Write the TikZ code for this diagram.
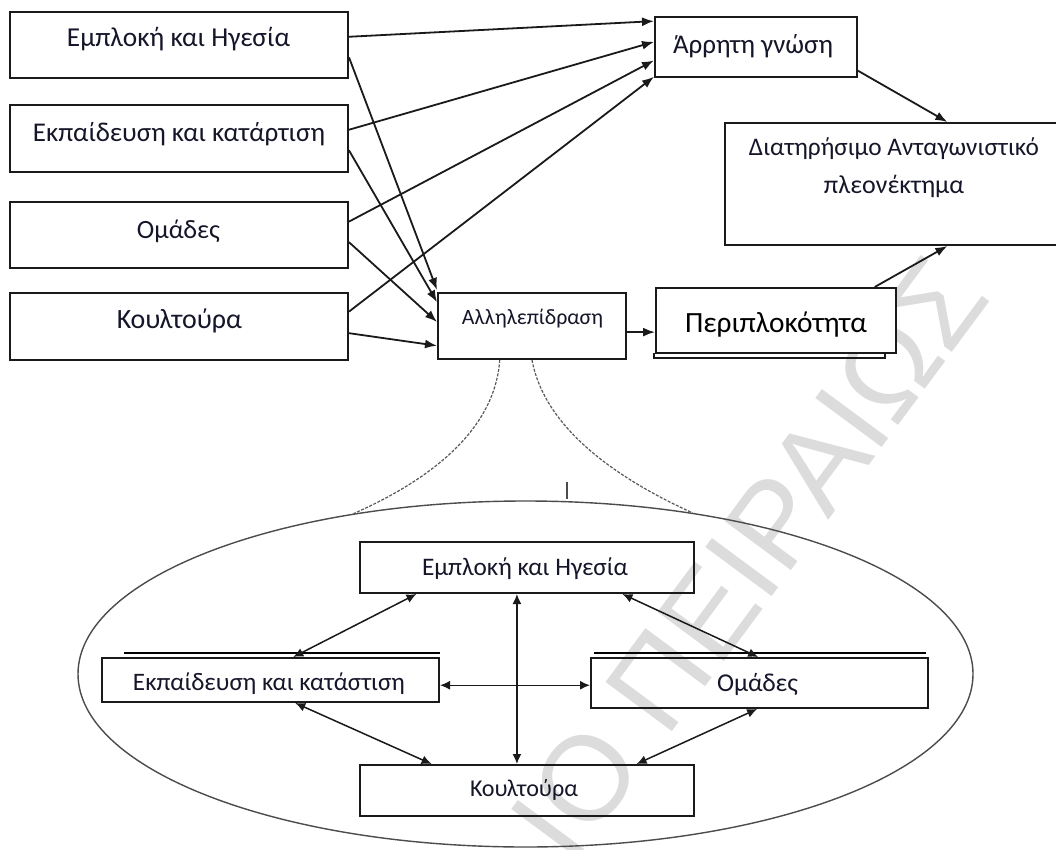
\documentclass[tikz,border=0pt]{standalone}
\usepackage{fontspec}
\setmainfont{Carlito}
\newfontfamily\wmfont{Liberation Sans}
\usetikzlibrary{arrows.meta,shapes.geometric,calc}
\definecolor{ink}{HTML}{16162A}
\definecolor{edge}{HTML}{1A1A1A}
\definecolor{wm}{HTML}{DCDCDC}
\definecolor{shade}{HTML}{8A8A8A}
\newcommand{\fitw}[2]{\resizebox{#1}{!}{#2}}
\begin{document}
\begin{tikzpicture}[x=1pt,y=-1pt,
  box/.style={draw=edge,line width=2pt,rectangle,inner sep=0pt},
  lbl/.style={inner sep=0pt,text=ink,anchor=base},
  arr/.style={draw=edge,line width=1.8pt,-{Latex[length=12pt,width=9pt]}},
  darr/.style={draw=edge,line width=1.5pt,{Latex[length=10pt,width=9pt]}-{Latex[length=10pt,width=9pt]}},
  zoomline/.style={draw=black!65,line width=1.2pt,dash pattern=on 3pt off 1.5pt},
  wmk/.style={inner sep=0pt,text=wm,anchor=base east,rotate=53.5,
    font=\wmfont\fontsize{120}{120}\selectfont}]
\useasboundingbox (0,0) rectangle (1056,850);
\fill[white] (0,0) rectangle (1056,850);

% watermark
\node[wmk] (wmark) at (993,298) {ΙΟ ΠΕΙΡΑΙΩΣ};

% ---------- upper model ----------
\node[box,minimum width=338pt,minimum height=66pt] (L1) at (179,45) {};
\node[box,minimum width=338pt,minimum height=67pt] (L2) at (179,138.5) {};
\node[box,minimum width=338pt,minimum height=66pt] (L3) at (179,235) {};
\node[box,minimum width=338pt,minimum height=67pt] (L4) at (179,326.5) {};
\node[lbl] (L1t) at (178.5,47) {\fitw{223pt}{Εμπλοκή και Ηγεσία}};
\node[lbl] (L2t) at (179,141.7) {\fitw{292pt}{Εκπαίδευση και κατάρτιση}};
\node[lbl] (L3t) at (178.5,238) {\fitw{83pt}{Ομάδες}};
\node[lbl] (L4t) at (179.5,328) {\fitw{125pt}{Κουλτούρα}};

\node[box,minimum width=202pt,minimum height=60pt] (AR) at (756,47) {};
\node[lbl] (ARt) at (753,53.3) {\fitw{160pt}{Άρρητη γνώση}};

\node[box,minimum width=338pt,minimum height=122pt] (DT) at (894,184) {};
\node[lbl] (DT1) at (894,155.5) {\fitw{290pt}{Διατηρήσιμο Ανταγωνιστικό}};
\node[lbl] (DT2) at (894,194) {\fitw{140pt}{πλεονέκτημα}};

\node[box,minimum width=188pt,minimum height=66pt] (AL) at (532,326) {};
\node[lbl] (ALt) at (532.5,324) {\fitw{141pt}{Αλληλεπίδραση}};

% stacked frame behind the complexity box
\draw[edge,line width=1.6pt] (654,353) -- (654,358) -- (885,358) -- (885,353);
\node[box,fill=white,minimum width=240pt,minimum height=65pt] (PR) at (776,320.5) {};
\node[lbl,text=black] (PRt) at (776,332) {\fitw{182pt}{Περιπλοκότητα}};

% inputs to tacit knowledge
\draw[arr] ($(L1.north east)!0.379!(L1.south east)$) -- ($(AR.north west)!0.083!(AR.south west)$);
\draw[arr] ($(L2.north east)!0.373!(L2.south east)$) -- ($(AR.north west)!0.417!(AR.south west)$);
\draw[arr] ($(L3.north east)!0.303!(L3.south east)$) -- ($(AR.north west)!0.717!(AR.south west)$);
\draw[arr] ($(L4.north east)!0.284!(L4.south east)$) -- ($(AR.north west)!0.98!(AR.south west)$);
% inputs to interaction
\draw[arr] ($(L1.north east)!0.682!(L1.south east)$) -- ($(AL.north west)!-0.03!(AL.south west)$);
\draw[arr] ($(L2.north east)!0.672!(L2.south east)$) -- ($(AL.north west)!0.15!(AL.south west)$);
\draw[arr] ($(L3.north east)!0.606!(L3.south east)$) -- ($(AL.north west)!0.44!(AL.south west)$);
\draw[arr] ($(L4.north east)!0.597!(L4.south east)$) -- ($(AL.north west)!0.79!(AL.south west)$);
% outcome chain
\coordinate (ALo) at ($(AL.north east)!0.59!(AL.south east)$);
\draw[arr] (ALo) -- (ALo -| PR.west);
\draw[arr] ($(AR.north east)!0.883!(AR.south east)$) -- ($(DT.north west)!0.657!(DT.north east)$);
\draw[arr] ($(PR.north west)!0.908!(PR.north east)$) -- ($(DT.south west)!0.657!(DT.south east)$);

% ---------- magnified interaction ----------
\node[draw=black!70,line width=1.4pt,ellipse,inner sep=0pt,
  minimum width=895pt,minimum height=346pt] (E) at (525.5,674) {};
\coordinate (tick) at (567,482);
\draw[black!70,line width=1.1pt] (tick) -- ++(0,17);
\draw[zoomline] ($(AL.south west)!0.33!(AL.south east)$)
  .. controls (495,430) and (430,480) .. (E.137.8);
\draw[zoomline] ($(AL.south west)!0.5!(AL.south east)$)
  .. controls (545,430) and (620,480) .. (E.44.4);

\node[box,minimum width=334pt,minimum height=51pt] (B1) at (527,567.5) {};
\node[box,minimum width=337pt,minimum height=44pt] (B2) at (270.5,680) {};
\node[box,minimum width=337pt,minimum height=50pt] (B3) at (759.5,683) {};
\node[box,minimum width=334pt,minimum height=51pt] (B4) at (527,790.5) {};
% grey double edge on the middle pair
\draw[shade,line width=1.8pt] ($(B2.north west)+(23,-4)$) -- ($(B2.north east)+(0,-4)$);
\draw[shade,line width=1.8pt] ($(B3.north west)+(4,-4)$) -- ($(B3.north east)+(-3,-4)$);

\node[lbl] (B1t) at (525,575) {\fitw{206pt}{Εμπλοκή και Ηγεσία}};
\node[lbl] (B2t) at (269,690.7) {\fitw{272pt}{Εκπαίδευση και κατάστιση}};
\node[lbl] (B3t) at (757.5,691.7) {\fitw{81pt}{Ομάδες}};
\node[lbl] (B4t) at (524,796.7) {\fitw{108pt}{Κουλτούρα}};

\draw[darr] ($(B1.south west)!0.171!(B1.south east)$) -- ($(B2.north west)!0.567!(B2.north east)$);
\draw[darr] ($(B1.south west)!0.784!(B1.south east)$) -- ($(B3.north west)!0.496!(B3.north east)$);
\draw[darr] ($(B1.south west)!0.47!(B1.south east)$) -- ($(B4.north west)!0.47!(B4.north east)$);
\coordinate (B2o) at ($(B2.north east)!0.614!(B2.south east)$);
\draw[darr] (B2o) -- (B2o -| B3.west);
\draw[darr] ($(B2.south west)!0.573!(B2.south east)$) -- ($(B4.north west)!0.216!(B4.north east)$);
\draw[darr] ($(B3.south west)!0.493!(B3.south east)$) -- ($(B4.north west)!0.826!(B4.north east)$);
\end{tikzpicture}
\end{document}
